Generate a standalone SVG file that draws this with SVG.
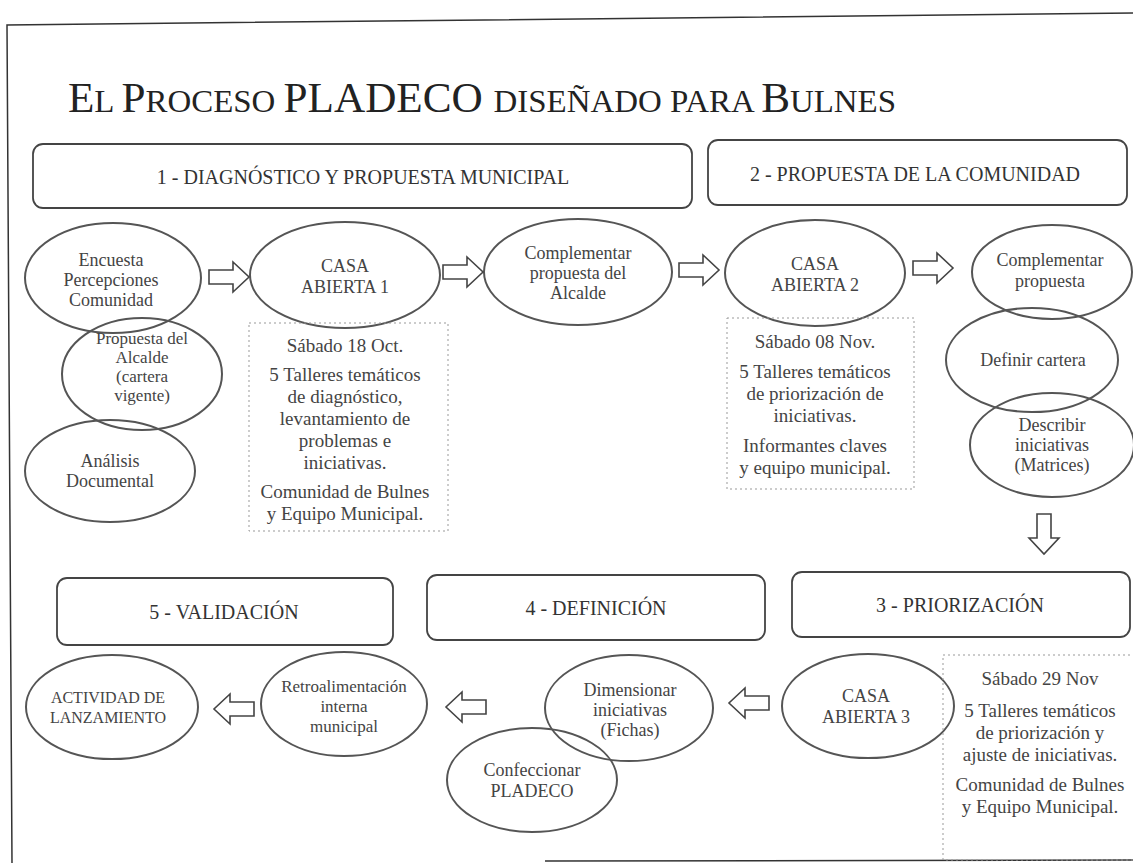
<svg xmlns="http://www.w3.org/2000/svg" width="1133" height="863" viewBox="0 0 1133 863">
<style>
  .frame{fill:none;stroke:#333;stroke-width:1.5}
  .phase{fill:#fff;stroke:#444;stroke-width:1.8}
  .node{fill:none;stroke:#555;stroke-width:2}
  .note{fill:none;stroke:#999;stroke-width:1;stroke-dasharray:2 3}
  .arrow{fill:#fff;stroke:#444;stroke-width:1.6;stroke-linejoin:miter}
  text{font-family:"Liberation Serif","Times New Roman",serif;fill:#444;text-anchor:middle}
  .title{fill:#222;text-anchor:start}
  .ph{font-size:20px;fill:#333}
  .t{font-size:18px}
  .ts{font-size:17px}
  .tc{font-size:16px}
  .n{font-size:19px}
</style>
<defs>
  <path id="rarrow" class="arrow" d="M0,-7 H24 V-15 L40,0 L24,15 V7 H0 Z"/>
</defs>
<rect width="1133" height="863" fill="#fff"/>
<polyline class="frame" points="1133,13 7,25 12,863"/>
<line class="frame" x1="545" y1="861" x2="1133" y2="860"/>

<text class="title" x="68" y="112" textLength="828" lengthAdjust="spacingAndGlyphs"><tspan font-size="42">E</tspan><tspan font-size="32">L </tspan><tspan font-size="42">P</tspan><tspan font-size="32">ROCESO </tspan><tspan font-size="42">PLADECO </tspan><tspan font-size="32">DISEÑADO PARA </tspan><tspan font-size="42">B</tspan><tspan font-size="32">ULNES</tspan></text>

<g id="phase1"><rect class="phase" x="33" y="144" width="659" height="64" rx="10"/><text class="ph" x="363" y="184">1 - DIAGNÓSTICO Y PROPUESTA MUNICIPAL</text></g>
<g id="phase2"><rect class="phase" x="708" y="140" width="419" height="65" rx="10"/><text class="ph" x="915" y="181">2 - PROPUESTA DE LA COMUNIDAD</text></g>
<g id="phase3"><rect class="phase" x="792" y="572" width="338" height="65" rx="10"/><text class="ph" x="960" y="612">3 - PRIORIZACIÓN</text></g>
<g id="phase4"><rect class="phase" x="427" y="575" width="338" height="65" rx="10"/><text class="ph" x="596" y="615">4 - DEFINICIÓN</text></g>
<g id="phase5"><rect class="phase" x="57" y="578" width="336" height="67" rx="10"/><text class="ph" x="224" y="619">5 - VALIDACIÓN</text></g>

<g id="encuesta"><ellipse class="node" cx="113" cy="278" rx="88" ry="55"/><text class="t" x="111" y="266">Encuesta</text><text class="t" x="111" y="286">Percepciones</text><text class="t" x="111" y="306">Comunidad</text></g>
<g id="propuesta-alcalde"><ellipse class="node" cx="142" cy="374" rx="80" ry="56"/><text class="ts" x="142" y="344">Propuesta del</text><text class="ts" x="142" y="363">Alcalde</text><text class="ts" x="142" y="382">(cartera</text><text class="ts" x="142" y="401">vigente)</text></g>
<g id="analisis"><ellipse class="node" cx="110" cy="471" rx="85" ry="51"/><text class="t" x="110" y="467">Análisis</text><text class="t" x="110" y="487">Documental</text></g>
<g id="casa1"><ellipse class="node" cx="345" cy="275" rx="95" ry="53"/><text class="t" x="345" y="272">CASA</text><text class="t" x="345" y="293">ABIERTA 1</text></g>
<g id="complementar-alcalde"><ellipse class="node" cx="578" cy="272" rx="94" ry="53"/><text class="t" x="578" y="259">Complementar</text><text class="t" x="578" y="279">propuesta del</text><text class="t" x="578" y="299">Alcalde</text></g>
<g id="casa2"><ellipse class="node" cx="815" cy="273" rx="90" ry="53"/><text class="t" x="815" y="270">CASA</text><text class="t" x="815" y="291">ABIERTA 2</text></g>
<g id="complementar-propuesta"><ellipse class="node" cx="1052" cy="272" rx="80" ry="47"/><text class="t" x="1050" y="266">Complementar</text><text class="t" x="1050" y="287">propuesta</text></g>
<g id="definir-cartera"><ellipse class="node" cx="1032" cy="360" rx="86" ry="52"/><text class="t" x="1033" y="366">Definir cartera</text></g>
<g id="describir"><ellipse class="node" cx="1052" cy="445" rx="82" ry="52"/><text class="t" x="1052" y="431">Describir</text><text class="t" x="1052" y="451">iniciativas</text><text class="t" x="1052" y="471">(Matrices)</text></g>
<g id="casa3"><ellipse class="node" cx="868" cy="706" rx="86" ry="52"/><text class="t" x="866" y="702">CASA</text><text class="t" x="866" y="723">ABIERTA 3</text></g>
<g id="dimensionar"><ellipse class="node" cx="629" cy="708" rx="84" ry="53"/><text class="t" x="630" y="696">Dimensionar</text><text class="t" x="630" y="716">iniciativas</text><text class="t" x="630" y="736">(Fichas)</text></g>
<g id="confeccionar"><ellipse class="node" cx="532" cy="780" rx="85" ry="52"/><text class="t" x="532" y="776">Confeccionar</text><text class="t" x="532" y="797">PLADECO</text></g>
<g id="retroalimentacion"><ellipse class="node" cx="344" cy="704" rx="83" ry="52"/><text class="ts" x="344" y="692">Retroalimentación</text><text class="ts" x="344" y="712">interna</text><text class="ts" x="344" y="732">municipal</text></g>
<g id="lanzamiento"><ellipse class="node" cx="112" cy="707" rx="86" ry="52"/><text class="tc" x="108" y="703">ACTIVIDAD DE</text><text class="tc" x="108" y="723">LANZAMIENTO</text></g>

<g id="nota1"><rect class="note" x="249" y="323" width="199" height="208"/><text class="n" x="345" y="352">Sábado 18 Oct.</text><text class="n" x="345" y="381">5 Talleres temáticos</text><text class="n" x="345" y="403">de diagnóstico,</text><text class="n" x="345" y="425">levantamiento de</text><text class="n" x="345" y="447">problemas e</text><text class="n" x="345" y="469">iniciativas.</text><text class="n" x="345" y="498">Comunidad de Bulnes</text><text class="n" x="345" y="520">y Equipo Municipal.</text></g>
<g id="nota2"><rect class="note" x="727" y="318" width="187" height="171"/><text class="n" x="815" y="348">Sábado 08 Nov.</text><text class="n" x="815" y="378">5 Talleres temáticos</text><text class="n" x="815" y="400">de priorización de</text><text class="n" x="815" y="422">iniciativas.</text><text class="n" x="815" y="452">Informantes claves</text><text class="n" x="815" y="474">y equipo municipal.</text></g>
<g id="nota3"><rect class="note" x="943" y="655" width="195" height="205"/><text class="n" x="1040" y="685">Sábado 29 Nov</text><text class="n" x="1040" y="717">5 Talleres temáticos</text><text class="n" x="1040" y="739">de priorización y</text><text class="n" x="1040" y="761">ajuste de iniciativas.</text><text class="n" x="1040" y="791">Comunidad de Bulnes</text><text class="n" x="1040" y="813">y Equipo Municipal.</text></g>

<g id="connectors">
  <use href="#rarrow" transform="translate(209,277)"/>
  <use href="#rarrow" transform="translate(443,272)"/>
  <use href="#rarrow" transform="translate(679,270)"/>
  <use href="#rarrow" transform="translate(913,268)"/>
  <use href="#rarrow" transform="translate(1044,514) rotate(90)"/>
  <use href="#rarrow" transform="translate(769,703) scale(-1,1)"/>
  <use href="#rarrow" transform="translate(486,707) scale(-1,1)"/>
  <use href="#rarrow" transform="translate(254,709) scale(-1,1)"/>
</g>
</svg>
